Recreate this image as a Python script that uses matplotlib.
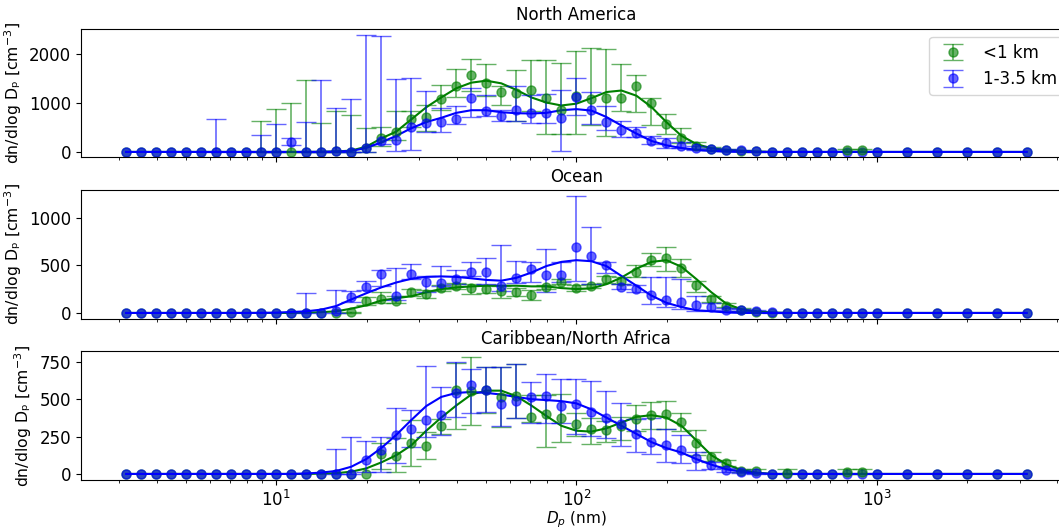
import numpy as np
import matplotlib
matplotlib.use("Agg")
import matplotlib.pyplot as plt

# particle diameter bins (nm)
diam = [3.162, 3.548, 3.981, 4.467, 5.012, 5.623, 6.310, 7.079, 7.943, 8.913,
        10.0, 11.22, 12.59, 14.13, 15.85, 17.78, 19.95, 22.39, 25.12, 28.18,
        31.62, 35.48, 39.81, 44.67, 50.12, 56.23, 63.10, 70.79, 79.43, 89.13,
        100.0, 112.2, 125.9, 141.3, 158.5, 177.8, 199.5, 223.9, 251.2, 281.8,
        316.2, 354.8, 398.1, 446.7, 501.2, 562.3, 631.0, 707.9, 794.3, 891.3,
        1000, 1259, 1585, 1995, 2512, 3162]

# ---- North America ----
na_lo_val = [0, 0, 0, 0, 0, 0, 0, 0, 0, 0,
             0, 0, 0, 0, 10, 0, 90, 280, 400, 680,
             710, 1085, 1350, 1575, 1410, 1220, 1205, 1275, 1095, 850,
             1135, 1088, 1108, 1108, 1356, 1005, 570, 280, 120, 70,
             40, 25, 10, 0, 0, 0, 0, 0, 30, 30,
             0, 0, 0, 0, 0, 0]
na_lo_min = [0, 0, 0, 0, 0, 0, 0, 0, 0, 0,
             0, 0, 0, 0, 0, 0, 0, 130, 250, 520,
             420, 850, 1130, 1250, 1150, 970, 630, 830, 360, 370,
             370, 560, 330, 830, 820, 560, 360, 175, 50, 40,
             20, 10, 0, 0, 0, 0, 0, 0, 10, 10,
             0, 0, 0, 0, 0, 0]
na_lo_max = [0, 0, 0, 0, 0, 0, 0, 0, 0, 631,
             886, 993, 1470, 600, 845, 765, 480, 500, 833, 830,
             950, 1360, 1690, 1910, 1800, 1340, 1675, 1880, 1880, 1825,
             2070, 2128, 2108, 1793, 1565, 1095, 766, 490, 195, 100,
             60, 40, 25, 0, 0, 0, 0, 0, 50, 50,
             0, 0, 0, 0, 0, 0]
na_hi_val = [0, 0, 0, 0, 0, 0, 0, 0, 0, 0,
             0, 205, 0, 0, 20, 0, 90, 230, 248, 510,
             584, 612, 680, 1100, 835, 732, 850, 800, 799, 690,
             1125, 860, 615, 450, 380, 228, 178, 130, 85, 60,
             40, 30, 10, 0, 0, 0, 0, 0, 0, 0,
             0, 0, 0, 0, 0, 0]
na_hi_min = [0, 0, 0, 0, 0, 0, 0, 0, 0, 0,
             0, 150, 0, 0, 0, 0, 0, 160, 25, 30,
             416, 416, 578, 720, 740, 631, 631, 600, 598, 20,
             765, 564, 445, 309, 300, 161, 81, 81, 40, 40,
             20, 15, 0, 0, 0, 0, 0, 0, 0, 0,
             0, 0, 0, 0, 0, 0]
na_hi_max = [0, 0, 0, 0, 0, 0, 665, 0, 0, 342,
             564, 285, 611, 1465, 900, 1088, 2390, 2377, 1484, 1510,
             1255, 900, 947, 1300, 1160, 850, 1356, 1160, 1175, 1275,
             1510, 1235, 930, 631, 500, 329, 282, 200, 130, 80,
             50, 40, 20, 0, 0, 0, 0, 0, 0, 0,
             0, 0, 0, 0, 0, 0]
na_lo_fit = [0, 0, 0, 0, 0, 0, 0, 0, 0, 0,
             0, 0, 0, 3, 10, 27, 107, 275, 416, 665,
             913, 1115, 1302, 1417, 1457, 1403, 1269, 1115, 1010, 950,
             987, 1100, 1225, 1256, 1150, 920, 610, 329, 161, 74,
             40, 20, 8, 0, 0, 0, 0, 0, 0, 0,
             0, 0, 0, 0, 0, 0]
na_hi_fit = [0, 0, 0, 0, 0, 0, 0, 0, 0, 0,
             0, 0, 0, 3, 8, 20, 81, 195, 329, 484,
             611, 698, 799, 853, 853, 812, 792, 786, 799, 853,
             875, 846, 715, 540, 375, 225, 135, 80, 42, 20,
             7, 0, 0, 0, 0, 0, 0, 0, 0, 0,
             0, 0, 0, 0, 0, 0]

# ---- Ocean ----
oc_lo_val = [0, 0, 0, 0, 0, 0, 0, 0, 0, 0,
             0, 0, 0, 0, 0, 10, 122, 148, 131, 220,
             200, 259, 287, 262, 248, 228, 217, 186, 269, 328,
             262, 280, 356, 338, 430, 556, 576, 469, 292, 145,
             76, 35, 15, 0, 0, 0, 0, 0, 0, 0,
             0, 0, 0, 0, 0, 0]
oc_lo_min = [0, 0, 0, 0, 0, 0, 0, 0, 0, 0,
             0, 0, 0, 0, 0, 0, 80, 110, 100, 183,
             160, 230, 255, 200, 210, 155, 180, 140, 250, 303,
             235, 260, 320, 300, 380, 494, 441, 380, 217, 114,
             60, 25, 10, 0, 0, 0, 0, 0, 0, 0,
             0, 0, 0, 0, 0, 0]
oc_lo_max = [0, 0, 0, 0, 0, 0, 0, 0, 0, 0,
             0, 0, 0, 0, 0, 10, 166, 217, 183, 252,
             240, 290, 320, 300, 290, 280, 260, 240, 290, 356,
             293, 303, 390, 380, 500, 631, 700, 566, 340, 176,
             100, 50, 25, 0, 0, 0, 0, 0, 0, 0,
             0, 0, 0, 0, 0, 0]
oc_hi_val = [0, 0, 0, 0, 0, 0, 0, 0, 0, 0,
             0, 0, 0, 0, 20, 170, 278, 410, 183, 407,
             328, 312, 355, 431, 432, 280, 372, 459, 398, 398,
             700, 604, 510, 275, 255, 191, 141, 114, 83, 58,
             36, 36, 20, 5, 0, 0, 0, 0, 0, 0,
             0, 0, 0, 0, 0, 0]
oc_hi_min = [0, 0, 0, 0, 0, 0, 0, 0, 0, 0,
             0, 0, 0, 0, 0, 120, 240, 283, 140, 356,
             217, 286, 303, 390, 303, 230, 320, 321, 217, 328,
             333, 303, 425, 250, 220, 97, 62, 45, 17, 30,
             25, 25, 10, 0, 0, 0, 0, 0, 0, 0,
             0, 0, 0, 0, 0, 0]
oc_hi_max = [0, 0, 0, 0, 0, 0, 0, 0, 0, 0,
             0, 0, 207, 0, 245, 228, 335, 452, 476, 518,
             390, 490, 452, 535, 578, 711, 543, 538, 673, 536,
             1228, 904, 536, 303, 290, 381, 381, 356, 180, 104,
             50, 45, 30, 0, 0, 0, 0, 0, 0, 0,
             0, 0, 0, 0, 0, 0]
oc_lo_fit = [0, 0, 0, 0, 0, 0, 0, 0, 0, 0,
             0, 0, 3, 8, 17, 45, 80, 131, 155, 176,
             217, 252, 269, 280, 287, 287, 287, 280, 280, 262,
             252, 259, 303, 373, 466, 538, 556, 487, 356, 217,
             97, 38, 17, 5, 0, 0, 0, 0, 0, 0,
             0, 0, 0, 0, 0, 0]
oc_hi_fit = [0, 0, 0, 0, 0, 0, 0, 0, 0, 1,
             3, 10, 17, 35, 73, 142, 207, 269, 321, 360,
             380, 385, 380, 365, 348, 340, 370, 425, 494, 538,
             556, 545, 494, 390, 287, 183, 107, 62, 28, 17,
             5, 0, 0, 0, 0, 0, 0, 0, 0, 0,
             0, 0, 0, 0, 0, 0]

# ---- Caribbean/North Africa ----
cb_lo_val = [0, 0, 0, 0, 0, 0, 0, 0, 0, 0,
             0, 0, 0, 0, 0, 0, 0, 130, 120, 204,
             188, 318, 559, 553, 564, 514, 524, 382, 399, 377,
             333, 298, 292, 320, 370, 394, 399, 348, 210, 114,
             70, 20, 18, 0, 5, 0, 0, 0, 15, 15,
             0, 0, 0, 0, 0, 0]
cb_lo_min = [0, 0, 0, 0, 0, 0, 0, 0, 0, 0,
             0, 0, 0, 0, 0, 0, 0, 30, 10, 53,
             100, 270, 298, 325, 405, 316, 377, 349, 178, 216,
             257, 200, 213, 224, 290, 300, 300, 290, 125, 85,
             50, 10, 5, 0, 0, 0, 0, 0, 0, 0,
             0, 0, 0, 0, 0, 0]
cb_lo_max = [0, 0, 0, 0, 0, 0, 0, 0, 0, 0,
             0, 0, 0, 0, 0, 0, 0, 206, 240, 360,
             280, 370, 740, 781, 712, 715, 737, 531, 530, 535,
             410, 375, 355, 380, 458, 484, 487, 410, 297, 150,
             90, 35, 30, 0, 30, 0, 0, 0, 35, 35,
             0, 0, 0, 0, 0, 0]
cb_hi_val = [0, 0, 0, 0, 0, 0, 0, 0, 0, 0,
             0, 0, 0, 0, 0, 0, 95, 160, 263, 300,
             362, 397, 542, 597, 564, 470, 485, 515, 524, 452,
             468, 415, 377, 331, 268, 213, 191, 163, 109, 57,
             28, 15, 5, 0, 0, 0, 0, 0, 0, 0,
             0, 0, 0, 0, 0, 0]
cb_hi_min = [0, 0, 0, 0, 0, 0, 0, 0, 0, 0,
             0, 0, 0, 0, 0, 0, 15, 15, 70, 180,
             246, 260, 380, 408, 412, 320, 377, 344, 344, 344,
             265, 253, 238, 185, 148, 136, 81, 70, 26, 30,
             15, 8, 0, 0, 0, 0, 0, 0, 0, 0,
             0, 0, 0, 0, 0, 0]
cb_hi_max = [0, 0, 0, 0, 0, 0, 0, 0, 0, 0,
             0, 0, 0, 0, 165, 246, 220, 246, 438, 430,
             723, 580, 752, 700, 714, 715, 737, 614, 668, 632,
             635, 624, 553, 474, 370, 377, 300, 260, 150, 80,
             40, 25, 0, 0, 0, 0, 0, 0, 0, 0,
             0, 0, 0, 0, 0, 0]
cb_lo_fit = [0, 0, 0, 0, 0, 0, 0, 0, 0, 0,
             0, 0, 0, 2, 5, 15, 37, 77, 125, 191,
             289, 377, 458, 531, 557, 557, 520, 458, 388, 322,
             289, 283, 305, 344, 382, 393, 377, 322, 224, 125,
             64, 26, 9, 0, 0, 0, 0, 0, 0, 0,
             0, 0, 0, 0, 0, 0]
cb_hi_fit = [0, 0, 0, 0, 0, 0, 0, 0, 0, 0,
             0, 0, 3, 9, 20, 48, 99, 173, 261, 360,
             454, 515, 542, 548, 542, 531, 515, 500, 494, 487,
             472, 432, 377, 322, 268, 213, 173, 143, 99, 62,
             31, 15, 6, 0, 0, 0, 0, 0, 0, 0,
             0, 0, 0, 0, 0, 0]

titles = ["North America", "Ocean", "Caribbean/North Africa"]
labels = ["<1 km", "1-3.5 km"]
yticks = [[0, 1000, 2000], [0, 500, 1000], [0, 250, 500, 750]]
ylims = [(-110, 2520), (-60, 1295), (-40, 820)]

plt.rcParams['font.size'] = 12
x = np.array(diam)


def draw_series(ax, val, lo, hi, fit, color, label):
    val = np.array(val, float)
    elo = np.clip(val - np.array(lo, float), 0, None)
    ehi = np.clip(np.array(hi, float) - val, 0, None)
    has = (elo + ehi) > 0
    h = ax.errorbar(x[has], val[has], yerr=[elo[has], ehi[has]], fmt='o',
                    color=color, ms=6.5, alpha=0.6, capsize=7, elinewidth=1.2,
                    label=label)
    ax.plot(x[~has], val[~has], 'o', color=color, ms=6.5, alpha=0.6)
    ax.plot(x, fit, '-', color=color, lw=1.5)
    return h


fig = plt.figure(figsize=(10.59, 5.30), dpi=100)
bottoms = [0.7032, 0.3988, 0.0945]
axes = []
for i in range(3):
    ax = fig.add_axes([0.0765, bottoms[i], 0.9355, 0.2426])
    axes.append(ax)

data = [
    (na_lo_val, na_lo_min, na_lo_max, na_lo_fit, na_hi_val, na_hi_min, na_hi_max, na_hi_fit),
    (oc_lo_val, oc_lo_min, oc_lo_max, oc_lo_fit, oc_hi_val, oc_hi_min, oc_hi_max, oc_hi_fit),
    (cb_lo_val, cb_lo_min, cb_lo_max, cb_lo_fit, cb_hi_val, cb_hi_min, cb_hi_max, cb_hi_fit),
]

for i, ax in enumerate(axes):
    d = data[i]
    h1 = draw_series(ax, d[0], d[1], d[2], d[3], 'green', labels[0])
    h2 = draw_series(ax, d[4], d[5], d[6], d[7], 'blue', labels[1])
    ax.set_xscale('log')
    ax.set_xlim(10 ** 0.35, 10 ** 3.65)
    ax.set_ylim(*ylims[i])
    ax.set_yticks(yticks[i])
    ax.set_title(titles[i], fontsize=12)
    ax.set_ylabel('dn/dlog Dₚ [cm$^{-3}$]', fontsize=11.3)
    if i < 2:
        ax.tick_params(axis='x', which='both', labelbottom=False)
    if i == 0:
        ax.legend(handles=[h1, h2], loc='upper right')

axes[2].set_xlabel('$D_p$ (nm)', fontsize=11, labelpad=0)

fig.savefig('out.png', dpi=100)
